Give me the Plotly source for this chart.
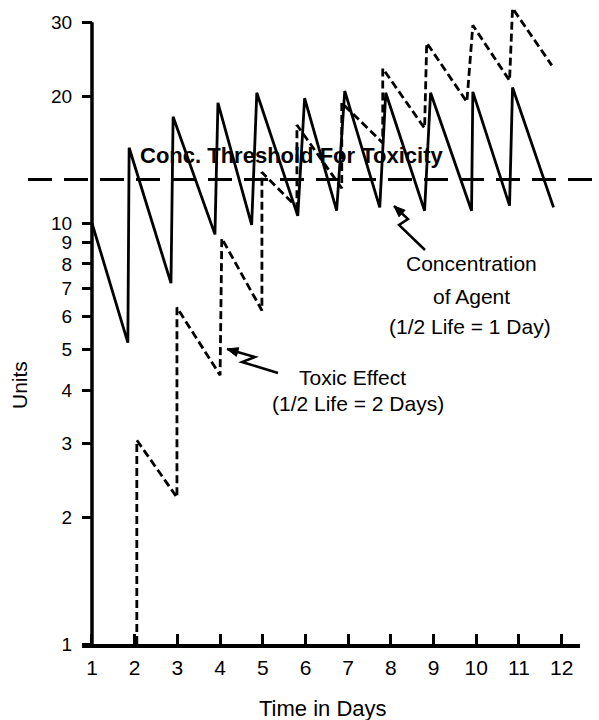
import math
import plotly.graph_objects as go

# ---- data ----
conc_days = [1.0, 1.84, 1.87, 2.85, 2.90, 3.88, 3.95, 4.74, 4.86, 5.82, 5.98,
             6.73, 6.92, 7.74, 7.88, 8.79, 8.93, 9.89, 9.92, 10.78, 10.85, 11.81]
conc_units = [10.0, 5.2, 15.1, 7.2, 17.9, 9.4, 19.3, 9.9, 20.4, 10.4, 19.8,
              10.7, 20.6, 10.9, 20.4, 10.7, 20.4, 10.7, 20.5, 11.0, 21.0, 10.9]

tox_days = [2.05, 2.05, 2.99, 2.99, 4.00, 4.04, 4.98, 4.98, 5.80, 5.80, 6.85,
            6.85, 7.81, 7.81, 8.79, 8.84, 9.78, 9.92, 10.78, 10.85, 11.77]
tox_units = [1.0, 3.05, 2.23, 6.3, 4.35, 9.2, 6.2, 13.2, 10.9, 17.1, 12.1,
             19.3, 15.5, 23.3, 16.8, 26.8, 19.4, 29.5, 21.8, 32.4, 23.7]

threshold = 12.7
x_ticks = list(range(1, 13))
y_ticks = [1, 2, 3, 4, 5, 6, 7, 8, 9, 10, 20, 30]

FONT = "Liberation Sans, Arial, Helvetica, sans-serif"
W, H = 599, 720
ML, MR, MT, MB = 82, 19, 0, 76
PW, PH = W - ML - MR, H - MT - MB
YMAX = 1.53
XR = [0.766, 12.43]


def P(px, py):
    return (px - ML) / PW, (H - MB - py) / PH


def path(points, close=False):
    s = ""
    for i, (px, py) in enumerate(points):
        x, y = P(px, py)
        s += ("M" if i == 0 else "L") + f"{x:.5f},{y:.5f} "
    return s + ("Z" if close else "")


def arrowhead(tip, frm, length=11, half=4.5):
    dx, dy = tip[0] - frm[0], tip[1] - frm[1]
    n = math.hypot(dx, dy)
    ux, uy = dx / n, dy / n
    bx, by = tip[0] - ux * length, tip[1] - uy * length
    pxv, pyv = -uy * half, ux * half
    return [tip, (bx + pxv, by + pyv), (bx - pxv, by - pyv)]


fig = go.Figure()
fig.add_trace(go.Scatter(x=conc_days, y=conc_units, mode="lines",
                         line=dict(color="black", width=2.8),
                         showlegend=False, hoverinfo="skip", cliponaxis=False))
fig.add_trace(go.Scatter(x=tox_days, y=tox_units, mode="lines",
                         line=dict(color="black", width=2.8, dash="8px,4px"),
                         showlegend=False, hoverinfo="skip", cliponaxis=False))

# threshold line (extends beyond the plot area)
ty = math.log10(threshold) / YMAX
fig.add_shape(type="line", xref="paper", yref="paper",
              x0=(28 - ML) / PW, x1=(599 - ML) / PW, y0=ty, y1=ty,
              line=dict(color="black", width=3, dash="24px,12px"))

# y axis line (from 1 to 30)
fig.add_shape(type="line", xref="x", yref="paper", x0=1, x1=1,
              y0=0, y1=math.log10(30) / YMAX,
              line=dict(color="black", width=3.5))

# lightning arrows
a1 = [(394, 206), (408, 219), (399, 225), (425, 250)]
a2 = [(227, 349), (255, 357), (242, 362), (278, 373)]
for a in (a1, a2):
    fig.add_shape(type="path", xref="paper", yref="paper", path=path(a),
                  line=dict(color="black", width=2.5))
    fig.add_shape(type="path", xref="paper", yref="paper",
                  path=path(arrowhead(a[0], a[1]), close=True),
                  fillcolor="black", line=dict(color="black", width=1))


def label(text, px, py, size=21, bold=False, angle=0):
    x, y = P(px, py)
    fig.add_annotation(x=x, y=y, xref="paper", yref="paper", text=text,
                       showarrow=False, xanchor="center", yanchor="middle",
                       textangle=angle,
                       font=dict(family=FONT, size=size, color="black",
                                 weight="bold" if bold else "normal"))


label("Conc. Threshold For Toxicity", 291, 155, size=22, bold=True)
label("Concentration", 471, 263)
label("of Agent", 471, 296)
label("(1/2 Life = 1 Day)", 470, 326)
label("Toxic Effect", 352, 378)
label("(1/2 Life = 2 Days)", 358, 403)
label("Units", 19, 385, size=21, angle=-90)
label("Time in Days", 323, 708, size=22)

fig.update_layout(
    width=W, height=H,
    margin=dict(l=ML, r=MR, t=MT, b=MB, pad=0),
    paper_bgcolor="white", plot_bgcolor="white",
    font=dict(family=FONT, color="black", size=20),
    xaxis=dict(range=XR, tickmode="array", tickvals=x_ticks,
               ticktext=[str(v) for v in x_ticks],
               showgrid=False, zeroline=False,
               showline=True, linecolor="black", linewidth=3.5,
               ticks="inside", ticklen=10, tickwidth=3, tickcolor="black",
               tickfont=dict(family=FONT, size=21, color="black"),
               ticklabelstandoff=2),
    yaxis=dict(type="log", range=[0, YMAX], tickmode="array",
               tickvals=y_ticks, ticktext=[str(v) for v in y_ticks],
               anchor="free", position=(92 - ML) / PW,
               showgrid=False, zeroline=False, showline=False,
               ticks="outside", ticklen=10, tickwidth=3, tickcolor="black",
               tickfont=dict(family=FONT, size=19, color="black"),
               ticklabelstandoff=6),
)

fig.write_html("out.html")
